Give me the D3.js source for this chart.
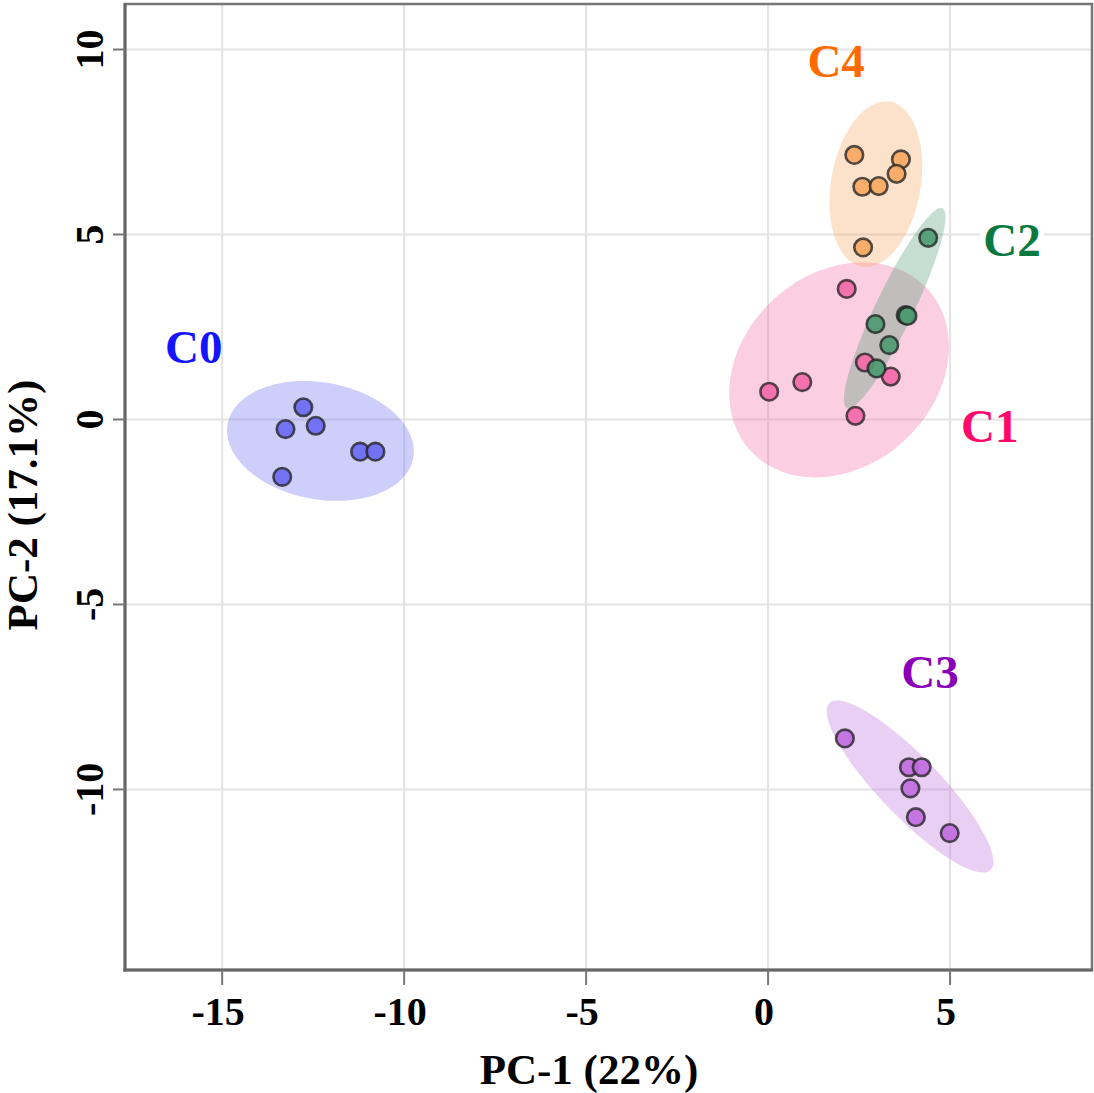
<!DOCTYPE html>
<html>
<head>
<meta charset="utf-8">
<script src="https://cdn.jsdelivr.net/npm/d3@7"></script>
<style>
  html, body { margin: 0; padding: 0; background: #fff; }
  svg { display: block; }
  text { font-family: "Liberation Serif", "Times New Roman", serif; font-weight: bold; }
</style>
</head>
<body>
<svg id="chart" width="1094" height="1093"></svg>
<script>
// ---------- data ----------
const clusters = ["C0", "C1", "C2", "C3", "C4"];
const xTicks = [-15, -10, -5, 0, 5];
const yTicks = [-10, -5, 0, 5, 10];
const xTitle = "PC-1 (22%)";
const yTitle = "PC-2 (17.1%)";

const pointsC0 = [[-12.77, 0.33], [-13.26, -0.26], [-12.43, -0.17], [-11.21, -0.87], [-10.79, -0.87], [-13.35, -1.55]];
const pointsC1 = [[2.16, 3.53], [2.66, 1.54], [3.37, 1.16], [0.94, 1.01], [0.03, 0.75], [2.40, 0.10]];
const pointsC2 = [[4.40, 4.91], [3.78, 2.82], [3.83, 2.80], [2.95, 2.58], [3.33, 2.01], [2.98, 1.38]];
const pointsC3 = [[2.11, -8.62], [3.87, -9.40], [4.22, -9.40], [3.91, -9.97], [4.06, -10.75], [4.99, -11.18]];
const pointsC4 = [[2.37, 7.15], [3.65, 7.03], [3.53, 6.64], [2.59, 6.29], [3.04, 6.31], [2.61, 4.65]];

// ellipse: [centerX, centerY, semiMajor, semiMinor, angleDeg] in data units
const ellipseC0 = [-12.30, -0.58, 2.59, 1.58, -10];
const ellipseC1 = [1.95, 1.34, 3.27, 2.62, 40];
const ellipseC2 = [3.48, 3.01, 3.00, 0.52, 64];
const ellipseC3 = [3.90, -9.92, 3.16, 0.82, -45.5];
const ellipseC4 = [2.96, 6.36, 2.26, 1.23, 80];

// label anchor (x center, y baseline) in data units
const labelPos = [[-15.78, 1.54], [6.09, -0.62], [6.70, 4.41], [4.45, -7.27], [1.87, 9.27]];

const pointColors = ["#6a6af2", "#f26aa8", "#4e9b72", "#c06ee0", "#f9a862"];
const labelColors = ["#1414ff", "#ff0a6a", "#087a40", "#8a00b8", "#ff6a00"];

const pointSets = [pointsC0, pointsC1, pointsC2, pointsC3, pointsC4];
const ellipseSets = [ellipseC0, ellipseC1, ellipseC2, ellipseC3, ellipseC4];

// ---------- layout ----------
const L = 125, R = 1092, T = 4, B = 970;
const x = d3.scaleLinear().domain([-17.67, 8.90]).range([L, R]);
const y = d3.scaleLinear().domain([-14.88, 11.23]).range([B, T]);

const svg = d3.select("#chart");

// grid
const grid = svg.append("g");
grid.selectAll(".vg").data(xTicks).join("line")
  .attr("x1", d => x(d)).attr("x2", d => x(d))
  .attr("y1", T).attr("y2", B)
  .attr("stroke", "#e3e3e3").attr("stroke-width", 2);
grid.selectAll(".hg").data(yTicks).join("line")
  .attr("x1", L).attr("x2", R)
  .attr("y1", d => y(d)).attr("y2", d => y(d))
  .attr("stroke", "#e3e3e3").attr("stroke-width", 2);

// ellipses
function ellipsePath(e) {
  const [cx, cy, a, b, ang] = e;
  const phi = ang * Math.PI / 180;
  const pts = d3.range(0, 361, 3).map(deg => {
    const t = deg * Math.PI / 180;
    const dx = a * Math.cos(t) * Math.cos(phi) - b * Math.sin(t) * Math.sin(phi);
    const dy = a * Math.cos(t) * Math.sin(phi) + b * Math.sin(t) * Math.cos(phi);
    return [x(cx + dx), y(cy + dy)];
  });
  return d3.line().curve(d3.curveCardinalClosed)(pts.slice(0, -1));
}
svg.append("g").selectAll("path").data(ellipseSets).join("path")
  .attr("d", ellipsePath)
  .attr("fill", (d, i) => pointColors[i])
  .attr("fill-opacity", 0.33)
  .attr("stroke", "none");

// points
clusters.forEach((c, i) => {
  svg.append("g").selectAll("circle").data(pointSets[i]).join("circle")
    .attr("cx", d => x(d[0])).attr("cy", d => y(d[1]))
    .attr("r", 8.8)
    .attr("fill", pointColors[i])
    .attr("fill-opacity", 0.92)
    .attr("stroke", "#222")
    .attr("stroke-opacity", 0.78)
    .attr("stroke-width", 2.6);
});

// cluster labels
const lg = svg.append("g");
clusters.forEach((c, i) => {
  const t = lg.append("text")
    .attr("x", x(labelPos[i][0])).attr("y", y(labelPos[i][1]))
    .attr("text-anchor", "middle")
    .attr("font-size", 47)
    .attr("fill", labelColors[i])
    .text(c);
  if (c === "C2") {
    const bb = t.node().getBBox();
    lg.insert("rect", "text")
      .attr("x", bb.x - 3).attr("y", y(yTicks[3]) - 3)
      .attr("width", bb.width + 6).attr("height", 6)
      .attr("fill", "#fff");
  }
});

// frame
svg.append("rect").attr("x", L).attr("y", T).attr("width", R - L).attr("height", B - T)
  .attr("fill", "none").attr("stroke", "#777").attr("stroke-width", 2.5);
svg.append("line").attr("x1", L).attr("x2", L).attr("y1", T - 1).attr("y2", B + 1.5)
  .attr("stroke", "#666").attr("stroke-width", 3);
svg.append("line").attr("x1", L - 1.5).attr("x2", R + 1).attr("y1", B).attr("y2", B)
  .attr("stroke", "#666").attr("stroke-width", 3);

// ticks
svg.append("g").selectAll("line").data(xTicks).join("line")
  .attr("x1", d => x(d)).attr("x2", d => x(d))
  .attr("y1", B).attr("y2", B + 15)
  .attr("stroke", "#777").attr("stroke-width", 2);
svg.append("g").selectAll("line").data(yTicks).join("line")
  .attr("x1", L - 12).attr("x2", L)
  .attr("y1", d => y(d)).attr("y2", d => y(d))
  .attr("stroke", "#777").attr("stroke-width", 2);

// tick labels
svg.append("g").selectAll("text").data(xTicks).join("text")
  .attr("x", d => x(d) - 4).attr("y", 1025)
  .attr("text-anchor", "middle")
  .attr("font-size", 40)
  .attr("fill", "#000")
  .text(d => d);
svg.append("g").selectAll("text").data(yTicks).join("text")
  .attr("transform", d => `translate(103,${y(d)}) rotate(-90)`)
  .attr("text-anchor", "middle")
  .attr("font-size", 40)
  .attr("fill", "#000")
  .text(d => d);

// axis titles
svg.append("text")
  .attr("x", 589).attr("y", 1084)
  .attr("text-anchor", "middle")
  .attr("font-size", 43)
  .attr("fill", "#000")
  .text(xTitle);
svg.append("text")
  .attr("transform", "translate(37,505) rotate(-90)")
  .attr("text-anchor", "middle")
  .attr("font-size", 43)
  .attr("fill", "#000")
  .text(yTitle);
</script>
</body>
</html>
